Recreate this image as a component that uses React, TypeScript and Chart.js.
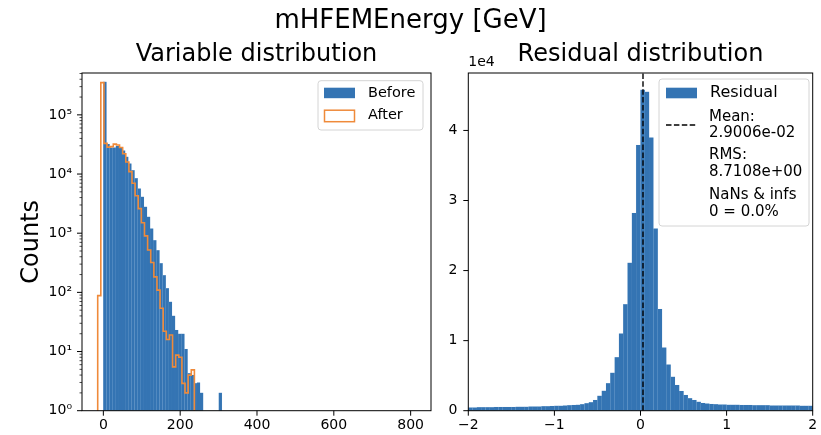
import React, { useEffect, useRef } from "react";
import { Chart, registerables } from "chart.js";

Chart.register(...registerables);

const FONT = '"DejaVu Sans", sans-serif';
const W = 821;
const H = 435;

// ---------- texts ----------
const FIG_TITLE = "mHFEMEnergy [GeV]";
const LEFT_TITLE = "Variable distribution";
const RIGHT_TITLE = "Residual distribution";
const Y_LABEL = "Counts";
const legendBefore = "Before";
const legendAfter = "After";
const legendResidual = "Residual";
const legendMean = ["Mean:", "2.9006e-02"];
const legendRms = ["RMS:", "8.7108e+00"];
const legendNans = ["NaNs & infs", "0 = 0.0%"];
const OFFSET_TEXT = "1e4";

// ---------- left panel data (variable distribution) ----------
const varBinWidth = 8.12;
const beforeStart = 0;
const beforeCounts = [
  360000, 32000, 28000, 28000, 29600, 28000, 25000, 19500, 15000, 11600,
  8500, 5700, 4100, 2800, 1900, 1200, 760, 515, 310, 195,
  117, 69, 40, 23, 20, 20, 11, 4.3, 4, 2.9,
  3, 2, 0, 0, 0, 0, 0, 2,
];
const afterStart = -14.7;
const afterCounts = [
  88, 350000, 33000, 28500, 29000, 32000, 31000, 28000, 22000, 16000,
  11000, 7000, 4300, 2600, 1500, 900, 520, 320, 183, 109,
  54, 22, 16, 19, 5.5, 8.7, 8, 2.9, 2, 4,
  4.9,
];
const varXTicks = [0, 200, 400, 600, 800];
const varXTickLabels = ["0", "200", "400", "600", "800"];
const varXMin = -55.6;
const varXMax = 853;
const varYTicks = [1, 10, 100, 1000, 10000, 100000];
const varYTickLabels = ["10⁰", "10¹", "10²", "10³", "10⁴", "10⁵"];
const varYMin = 1;
const varYMax = 510000;

// ---------- right panel data (residual distribution) ----------
const resStart = -2;
const resBinWidth = 0.05;
const residualCounts = [
  450, 460, 470, 480, 480, 490, 500, 510, 520, 520,
  530, 540, 550, 560, 580, 590, 600, 620, 640, 660,
  690, 710, 730, 760, 790, 830, 910, 1060, 1200, 1530,
  2140, 2850, 3900, 5400, 7600, 11000, 15200, 21100, 28200, 37900,
  45800, 45500, 39000, 26000, 14500, 9000, 6600, 4850, 3670, 2800,
  2240, 1770, 1530, 1280, 1100, 1000, 950, 900, 880, 860,
  840, 830, 820, 810, 800, 790, 780, 770, 760, 750,
  745, 740, 735, 730, 725, 720, 715, 710, 705, 700,
];
const residualMean = 0.029006;
const resXMin = -2;
const resXMax = 2;
const resXTicks = [-2, -1, 0, 1, 2];
const resXTickLabels = ["−2", "−1", "0", "1", "2"];
const resYMin = 0;
const resYMax = 48200;
const resYTicks = [0, 10000, 20000, 30000, 40000];
const resYTickLabels = ["0", "1", "2", "3", "4"];

// ---------- colours ----------
const BLUE = "#3474b3";
const BAR_EDGE = "rgba(120,170,215,0.5)";
const ORANGE = "#ef8a3a";

function binPoints(start: number, width: number, counts: number[]) {
  return counts.map((c, i) => ({ x: start + (i + 0.5) * width, y: c > 0 ? c : null }));
}
function stepPoints(start: number, width: number, counts: number[], base: number) {
  const pts: { x: number; y: number }[] = [{ x: start, y: base }];
  counts.forEach((c, i) => pts.push({ x: start + i * width, y: c }));
  pts.push({ x: start + counts.length * width, y: base });
  return pts;
}

function text(ctx: CanvasRenderingContext2D, s: string, x: number, y: number, size: number, align: CanvasTextAlign = "left", baseline: CanvasTextBaseline = "middle") {
  ctx.font = `${size}px ${FONT}`;
  ctx.fillStyle = "#000";
  ctx.textAlign = align;
  ctx.textBaseline = baseline;
  ctx.fillText(s, x, y);
}
function seg(ctx: CanvasRenderingContext2D, x1: number, y1: number, x2: number, y2: number) {
  ctx.beginPath();
  ctx.moveTo(x1, y1);
  ctx.lineTo(x2, y2);
  ctx.stroke();
}
function roundRect(ctx: CanvasRenderingContext2D, x: number, y: number, w: number, h: number, r: number) {
  ctx.beginPath();
  ctx.moveTo(x + r, y);
  ctx.lineTo(x + w - r, y);
  ctx.arcTo(x + w, y, x + w, y + r, r);
  ctx.lineTo(x + w, y + h - r);
  ctx.arcTo(x + w, y + h, x + w - r, y + h, r);
  ctx.lineTo(x + r, y + h);
  ctx.arcTo(x, y + h, x, y + h - r, r);
  ctx.lineTo(x, y + r);
  ctx.arcTo(x, y, x + r, y, r);
  ctx.closePath();
}

function fixedAxis(size: number, horizontal: boolean) {
  return (s: any) => {
    if (horizontal) s.height = size;
    else s.width = size;
    s.paddingLeft = 0;
    s.paddingRight = 0;
    s.paddingTop = 0;
    s.paddingBottom = 0;
  };
}

const tickFont = { family: FONT, size: 14 };

const leftDecor = {
  id: "leftDecor",
  afterDraw(chart: any) {
    const { ctx, chartArea: a, scales } = chart;
    const x = scales.x;
    const y = scales.y;
    ctx.save();
    ctx.strokeStyle = "#000";
    ctx.lineWidth = 1;
    ctx.strokeRect(a.left, a.top, a.right - a.left, a.bottom - a.top);
    for (const v of varXTicks) {
      const px = x.getPixelForValue(v);
      seg(ctx, px, a.bottom, px, a.bottom + 5);
    }
    for (let e = 0; e <= 6; e++) {
      for (let m = 1; m <= 9; m++) {
        const v = m * Math.pow(10, e);
        if (v > y.max) break;
        const py = y.getPixelForValue(v);
        const len = m === 1 ? 5 : 2.5;
        ctx.lineWidth = m === 1 ? 1 : 0.7;
        seg(ctx, a.left - len, py, a.left, py);
      }
    }
    // titles
    text(ctx, FIG_TITLE, W / 2, 28, 26, "center", "alphabetic");
    text(ctx, LEFT_TITLE, (a.left + a.right) / 2, 61, 24, "center", "alphabetic");
    ctx.save();
    ctx.translate(38, (a.top + a.bottom) / 2);
    ctx.rotate(-Math.PI / 2);
    text(ctx, Y_LABEL, 0, 0, 24, "center", "alphabetic");
    ctx.restore();
    // legend
    const lx = a.right - 113, ly = a.top + 7.7, lw = 105, lh = 49.3;
    roundRect(ctx, lx, ly, lw, lh, 3);
    ctx.fillStyle = "rgba(255,255,255,0.8)";
    ctx.fill();
    ctx.strokeStyle = "#d4d4d4";
    ctx.lineWidth = 1;
    ctx.stroke();
    ctx.fillStyle = BLUE;
    ctx.fillRect(lx + 6, ly + 7, 31, 10.5);
    ctx.strokeStyle = ORANGE;
    ctx.lineWidth = 1.5;
    ctx.strokeRect(lx + 6.5, ly + 29.5, 30, 11.5);
    text(ctx, legendBefore, lx + 50, ly + 12.5, 14.5);
    text(ctx, legendAfter, lx + 50, ly + 35, 14.5);
    ctx.restore();
  },
};

const rightDecor = {
  id: "rightDecor",
  afterDraw(chart: any) {
    const { ctx, chartArea: a, scales } = chart;
    const x = scales.x;
    const y = scales.y;
    ctx.save();
    ctx.strokeStyle = "#000";
    ctx.lineWidth = 1;
    ctx.strokeRect(a.left, a.top, a.right - a.left, a.bottom - a.top);
    for (const v of resXTicks) {
      const px = x.getPixelForValue(v);
      seg(ctx, px, a.bottom, px, a.bottom + 5);
    }
    for (const v of resYTicks) {
      const py = y.getPixelForValue(v);
      seg(ctx, a.left - 5, py, a.left, py);
    }
    text(ctx, RIGHT_TITLE, (a.left + a.right) / 2, 61, 24, "center", "alphabetic");
    text(ctx, OFFSET_TEXT, a.left, 62, 14, "left", "middle");
    // legend
    const lx = 659, ly = 79, lw = 150, lh = 147;
    roundRect(ctx, lx, ly, lw, lh, 3);
    ctx.fillStyle = "rgba(255,255,255,0.8)";
    ctx.fill();
    ctx.strokeStyle = "#d4d4d4";
    ctx.lineWidth = 1;
    ctx.stroke();
    ctx.fillStyle = BLUE;
    ctx.fillRect(666, 87.7, 31, 10.6);
    ctx.strokeStyle = "#000";
    ctx.lineWidth = 1.5;
    ctx.setLineDash([5.5, 2.4]);
    seg(ctx, 666, 125, 697, 125);
    ctx.setLineDash([]);
    text(ctx, legendResidual, 710, 92.5, 16);
    text(ctx, legendMean[0], 709, 116.7, 15);
    text(ctx, legendMean[1], 709, 133, 15);
    text(ctx, legendRms[0], 709, 155.5, 15);
    text(ctx, legendRms[1], 709, 172, 15);
    text(ctx, legendNans[0], 709, 195, 15);
    text(ctx, legendNans[1], 709, 211.7, 15);
    ctx.restore();
  },
};

export default function App() {
  const leftRef = useRef<HTMLCanvasElement>(null);
  const rightRef = useRef<HTMLCanvasElement>(null);

  useEffect(() => {
    const common = {
      animation: false as const,
      responsive: false,
      events: [] as any[],
      plugins: { legend: { display: false }, tooltip: { enabled: false } },
    };

    const left = new Chart(leftRef.current!, {
      type: "bar",
      data: {
        datasets: [
          {
            type: "bar",
            label: legendBefore,
            data: binPoints(beforeStart, varBinWidth, beforeCounts) as any,
            backgroundColor: BLUE,
            borderColor: BAR_EDGE,
            borderWidth: 0.25,
            barPercentage: 1,
            categoryPercentage: 1,
            order: 2,
          },
          {
            type: "line",
            label: legendAfter,
            data: stepPoints(afterStart, varBinWidth, afterCounts, 0.3) as any,
            borderColor: ORANGE,
            borderWidth: 1.6,
            pointRadius: 0,
            fill: false,
            stepped: "before",
            order: 1,
          } as any,
        ],
      },
      options: {
        ...common,
        layout: { padding: { left: 0, right: W - 431, top: 73, bottom: 0 } },
        scales: {
          x: {
            type: "linear",
            bounds: "data",
            offset: false,
            min: varXMin,
            max: varXMax,
            grid: { display: false, drawTicks: false, offset: false },
            border: { display: false },
            ticks: {
              font: tickFont,
              color: "#000",
              padding: 6,
              maxRotation: 0,
              autoSkip: false,
              callback: (_v: any, i: number) => varXTickLabels[i],
            },
            afterBuildTicks: (s: any) => {
              s.ticks = varXTicks.map((v) => ({ value: v }));
            },
            afterFit: fixedAxis(H - 410.7, true),
          },
          y: {
            type: "logarithmic",
            bounds: "data",
            min: varYMin,
            max: varYMax,
            grid: { display: false, drawTicks: false },
            border: { display: false },
            ticks: {
              font: tickFont,
              color: "#000",
              padding: 10,
              autoSkip: false,
              callback: (_v: any, i: number) => varYTickLabels[i],
            },
            afterBuildTicks: (s: any) => {
              s.ticks = varYTicks.map((v) => ({ value: v }));
            },
            afterFit: fixedAxis(82, false),
          },
        },
      } as any,
      plugins: [leftDecor],
    });

    const right = new Chart(rightRef.current!, {
      type: "bar",
      data: {
        datasets: [
          {
            type: "bar",
            label: legendResidual,
            data: binPoints(resStart, resBinWidth, residualCounts) as any,
            backgroundColor: BLUE,
            borderColor: BAR_EDGE,
            borderWidth: 0.25,
            barPercentage: 1,
            categoryPercentage: 1,
            order: 2,
          },
          {
            type: "line",
            label: "Mean",
            data: [
              { x: residualMean, y: resYMin },
              { x: residualMean, y: resYMax },
            ],
            borderColor: "#000",
            borderWidth: 1.4,
            borderDash: [5.5, 2.4],
            pointRadius: 0,
            fill: false,
            order: 1,
          } as any,
        ],
      },
      options: {
        ...common,
        layout: { padding: { left: 468.3 - 40, right: W - 812.7, top: 73, bottom: 0 } },
        scales: {
          x: {
            type: "linear",
            bounds: "data",
            offset: false,
            min: resXMin,
            max: resXMax,
            grid: { display: false, drawTicks: false, offset: false },
            border: { display: false },
            ticks: {
              font: tickFont,
              color: "#000",
              padding: 6,
              maxRotation: 0,
              autoSkip: false,
              callback: (_v: any, i: number) => resXTickLabels[i],
            },
            afterBuildTicks: (s: any) => {
              s.ticks = resXTicks.map((v) => ({ value: v }));
            },
            afterFit: fixedAxis(H - 410.7, true),
          },
          y: {
            type: "linear",
            bounds: "data",
            min: resYMin,
            max: resYMax,
            grid: { display: false, drawTicks: false },
            border: { display: false },
            ticks: {
              font: tickFont,
              color: "#000",
              padding: 11,
              autoSkip: false,
              callback: (_v: any, i: number) => resYTickLabels[i],
            },
            afterBuildTicks: (s: any) => {
              s.ticks = resYTicks.map((v) => ({ value: v }));
            },
            afterFit: fixedAxis(40, false),
          },
        },
      } as any,
      plugins: [rightDecor],
    });

    return () => {
      left.destroy();
      right.destroy();
    };
  }, []);

  const cstyle: React.CSSProperties = { position: "absolute", left: 0, top: 0, width: W, height: H, display: "block" };
  return (
    <div style={{ position: "absolute", left: 0, top: 0, width: W, height: H, background: "#fff" }}>
      <canvas ref={leftRef} width={W} height={H} style={cstyle} />
      <canvas ref={rightRef} width={W} height={H} style={cstyle} />
    </div>
  );
}
